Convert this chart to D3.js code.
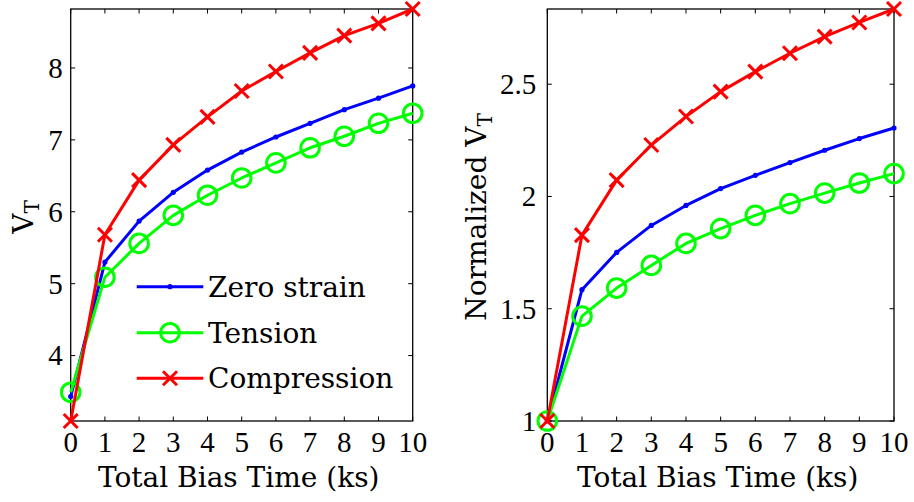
<!DOCTYPE html>
<html>
<head>
<meta charset="utf-8">
<script src="https://cdn.jsdelivr.net/npm/d3@7"></script>
<style>
  html, body { margin: 0; padding: 0; background: #fff; font-family: "DejaVu Serif", "Liberation Serif", serif; }
  svg { display: block; font-family: "DejaVu Serif", "Liberation Serif", serif; }
  svg text { font-family: "DejaVu Serif", "Liberation Serif", serif !important; }
  svg text.tick-label { font-family: "Liberation Serif", "DejaVu Serif", serif !important; }
</style>
</head>
<body>
<svg id="chart" width="914" height="502" font-family="DejaVu Serif"></svg>
<script>
// Bias time (ks)
const biasTime = [0, 1, 2, 3, 4, 5, 6, 7, 8, 9, 10];

// Threshold voltage V_T
const vtZeroStrain  = [3.43, 5.30, 5.87, 6.27, 6.58, 6.83, 7.04, 7.23, 7.42, 7.58, 7.75];
const vtTension     = [3.49, 5.09, 5.56, 5.95, 6.23, 6.47, 6.68, 6.89, 7.05, 7.23, 7.37];
const vtCompression = [3.09, 5.68, 6.44, 6.93, 7.32, 7.68, 7.95, 8.21, 8.45, 8.62, 8.82];

// V_T normalised to its value at t = 0
const nZeroStrain  = [1, 1.585, 1.751, 1.871, 1.960, 2.035, 2.094, 2.151, 2.206, 2.258, 2.305];
const nTension     = [1, 1.467, 1.592, 1.693, 1.791, 1.857, 1.916, 1.968, 2.015, 2.060, 2.102];
const nCompression = [1, 1.828, 2.073, 2.229, 2.356, 2.467, 2.556, 2.638, 2.712, 2.775, 2.835];

const xTicks = [0, 1, 2, 3, 4, 5, 6, 7, 8, 9, 10];
const yTicksLeft  = [4, 5, 6, 7, 8];
const yTicksRight = [1, 1.5, 2, 2.5];

const seriesNames = ["Zero strain", "Tension", "Compression"];
const seriesColors = ["#0000ff", "#00ff00", "#ff0000"];
const seriesMarkers = ["dot", "circle", "cross"];

function tickText(g) {
  return g.append("text").attr("class", "tick-label").attr("font-size", 29).attr("fill", "#000");
}
function labelText(g) {
  return g.append("text").attr("class", "axis-label").attr("font-size", 28).attr("fill", "#000");
}

function drawMarker(g, type, color, x, y) {
  if (type === "dot") {
    g.append("circle").attr("cx", x).attr("cy", y).attr("r", 2.6).attr("fill", color);
  } else if (type === "circle") {
    g.append("circle").attr("cx", x).attr("cy", y).attr("r", 9.3)
      .attr("fill", "none").attr("stroke", color).attr("stroke-width", 3);
  } else {
    const s = 7;
    g.append("path")
      .attr("d", `M${x - s},${y - s}L${x + s},${y + s}M${x - s},${y + s}L${x + s},${y - s}`)
      .attr("stroke", color).attr("stroke-width", 3).attr("fill", "none");
  }
}

function panel(svg, opts) {
  const { left, right, top, bottom, series, yTicks, yFormat, yLabelMain, yLabelX, yTickGap } = opts;
  const allY = series.flat();
  const x = d3.scaleLinear().domain([0, 10]).range([left, right]);
  const y = d3.scaleLinear().domain(d3.extent(allY)).range([bottom, top]);
  const g = svg.append("g");
  const tickLen = 4.5;

  // axis frame
  g.append("rect")
    .attr("x", left).attr("y", top)
    .attr("width", right - left).attr("height", bottom - top)
    .attr("fill", "none").attr("stroke", "#000").attr("stroke-width", 1.3);

  // inward ticks on all four sides
  xTicks.forEach(t => {
    const px = x(t);
    g.append("line").attr("x1", px).attr("x2", px).attr("y1", bottom).attr("y2", bottom - tickLen)
      .attr("stroke", "#000").attr("stroke-width", 1);
    g.append("line").attr("x1", px).attr("x2", px).attr("y1", top).attr("y2", top + tickLen)
      .attr("stroke", "#000").attr("stroke-width", 1);
    tickText(g).attr("x", px).attr("y", bottom + 31)
      .attr("text-anchor", "middle").text(t);
  });
  yTicks.forEach(t => {
    const py = y(t);
    g.append("line").attr("x1", left).attr("x2", left + tickLen).attr("y1", py).attr("y2", py)
      .attr("stroke", "#000").attr("stroke-width", 1);
    g.append("line").attr("x1", right).attr("x2", right - tickLen).attr("y1", py).attr("y2", py)
      .attr("stroke", "#000").attr("stroke-width", 1);
    tickText(g).attr("x", left - yTickGap).attr("y", py).attr("dy", "0.34em")
      .attr("text-anchor", "end").text(yFormat(t));
  });

  // x label
  labelText(g).attr("x", (left + right) / 2 - 3).attr("y", 487)
    .attr("text-anchor", "middle").text("Total Bias Time (ks)");

  // y label with subscript
  const yl = labelText(g)
    .attr("transform", `translate(${yLabelX},${(top + bottom) / 2 + 2}) rotate(-90)`)
    .attr("text-anchor", "middle");
  yl.append("tspan").text(yLabelMain + "V");
  yl.append("tspan").attr("dy", 6).attr("font-size", 20).text("T");

  // series lines and markers
  const line = d3.line().x((d, i) => x(biasTime[i])).y(d => y(d));
  series.forEach((vals, si) => {
    const sg = g.append("g");
    sg.append("path").datum(vals).attr("d", line)
      .attr("fill", "none").attr("stroke", seriesColors[si]).attr("stroke-width", 3)
      .attr("stroke-linejoin", "round");
    vals.forEach((v, i) => drawMarker(sg, seriesMarkers[si], seriesColors[si], x(biasTime[i]), y(v)));
  });
}

const svg = d3.select("#chart");

panel(svg, {
  left: 70.7, right: 412.7, top: 9, bottom: 421,
  series: [vtZeroStrain, vtTension, vtCompression],
  yTicks: yTicksLeft, yFormat: d3.format("d"),
  yLabelMain: "", yLabelX: 33, yTickGap: 8
});

panel(svg, {
  left: 547.3, right: 894, top: 9, bottom: 421,
  series: [nZeroStrain, nTension, nCompression],
  yTicks: yTicksRight, yFormat: d => String(d),
  yLabelMain: "Normalized ", yLabelX: 486, yTickGap: 11
});

// legend in the left panel
const legend = svg.append("g");
const legendRows = [286.7, 332.7, 378.3];
seriesNames.forEach((name, i) => {
  const ly = legendRows[i];
  legend.append("line").attr("x1", 136.7).attr("x2", 203.3).attr("y1", ly).attr("y2", ly)
    .attr("stroke", seriesColors[i]).attr("stroke-width", 3);
  drawMarker(legend, seriesMarkers[i], seriesColors[i], 170, ly);
  labelText(legend).attr("x", 208).attr("y", ly).attr("dy", "0.36em").text(name);
});
</script>
</body>
</html>
